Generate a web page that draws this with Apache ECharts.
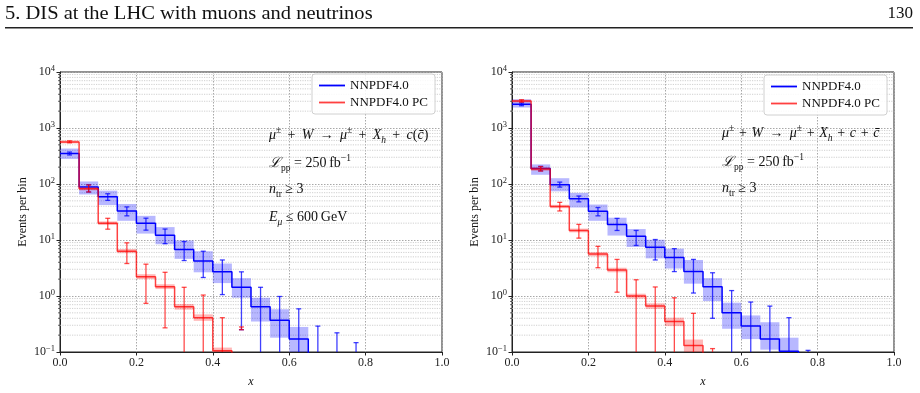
<!DOCTYPE html>
<html><head><meta charset="utf-8">
<script src="https://cdn.jsdelivr.net/npm/echarts@6/dist/echarts.min.js"></script>
<style>html,body{margin:0;padding:0;background:#fff}#c{width:920px;height:393px}</style>
</head><body><div id="c"></div>
<script>
// ---- data ----
const binEdges = [0, 0.05, 0.1, 0.15, 0.2, 0.25, 0.3, 0.35, 0.4, 0.45, 0.5, 0.55, 0.6, 0.65, 0.7, 0.75, 0.8];
const xTicks = [0, 0.2, 0.4, 0.6, 0.8, 1.0];
const seriesNames = ['NNPDF4.0', 'NNPDF4.0 PC'];

// Left panel: mu + W -> mu + X_h + c(cbar), E_mu <= 600 GeV
const leftNN      = [350, 88, 59, 33, 20, 12.2, 6.8, 4.2, 2.7, 1.43, 0.64, 0.37, 0.17, 0.05, 0.04, 0.03];
const leftNNBandLo= [280, 65, 42, 22, 13, 8.4, 4.6, 2.65, 1.7, 0.93, 0.35, 0.18, 0.08, null, null, null];
const leftNNBandHi= [430, 111, 76, 44, 27, 17, 9.8, 6.3, 3.8, 2.08, 0.93, 0.58, 0.28, null, null, null];
const leftNNErrLo = [330, 72, 51, 27, 15, 8.6, 4.3, 2.14, 1.06, 0.25, 0.01, 0.01, 0.01, 0.01, 0.01, 0.01];
const leftNNErrHi = [372, 97, 67, 39, 24.5, 15.7, 9.4, 6.3, 4.4, 2.7, 1.43, 0.98, 0.59, 0.29, 0.22, 0.147];
const leftPC      = [563, 82, 20, 6.3, 2.2, 1.47, 0.64, 0.41, 0.105, 0.05, 0.04, 0.03, 0.03, 0.03, 0.03, 0.03];
const leftPCBandLo= [530, 77, 18.5, 5.8, 2.0, 1.33, 0.57, 0.36, 0.09, null, null, null, null, null, null, null];
const leftPCBandHi= [600, 88, 21.5, 6.9, 2.45, 1.62, 0.72, 0.47, 0.12, null, null, null, null, null, null, null];
const leftPCErrLo = [545, 72, 15.6, 3.8, 0.74, 0.27, 0.01, 0.01, 0.01, 0.25, null, null, null, null, null, null];
const leftPCErrHi = [590, 96, 24.4, 8.9, 3.7, 2.65, 1.43, 1.04, 0.41, 0.28, null, null, null, null, null, null];

// Right panel: mu + W -> mu + X_h + c + cbar
const rightNN      = [2650, 189, 97, 54.5, 32.5, 19, 11.7, 7.4, 4.85, 2.75, 1.47, 0.5, 0.29, 0.17, 0.103, 0.05];
const rightNNBandLo= [2320, 146, 74, 38, 22, 12, 7.5, 4.7, 3.1, 1.66, 0.81, 0.26, 0.17, 0.11, 0.06, null];
const rightNNBandHi= [3250, 224, 127, 69.5, 43, 25, 15.7, 10.1, 7.0, 4.4, 2.08, 0.76, 0.45, 0.34, 0.18, null];
const rightNNErrLo = [2500, 172, 88, 48, 27, 14.8, 8.0, 4.4, 2.73, 1.13, 0.4, 0.01, 0.01, 0.01, 0.01, 0.01];
const rightNNErrHi = [2800, 206, 108, 61, 38, 24.3, 14.8, 10.2, 7.0, 4.5, 2.6, 1.25, 0.78, 0.66, 0.41, 0.107];
const rightPC      = [3030, 186, 39.5, 14.8, 5.6, 2.9, 1.0, 0.66, 0.35, 0.13, 0.05, 0.04, 0.03, 0.03, 0.03, 0.03];
const rightPCBandLo= [2850, 172, 37, 13.7, 5.1, 2.65, 0.9, 0.59, 0.29, 0.1, null, null, null, null, null, null];
const rightPCBandHi= [3200, 200, 42.5, 16, 6.1, 3.2, 1.1, 0.74, 0.41, 0.167, null, null, null, null, null, null];
const rightPCErrLo = [2900, 170, 33, 10.8, 3.2, 1.17, 0.01, 0.01, 0.01, 0.01, 0.01, null, null, null, null, null];
const rightPCErrHi = [3200, 205, 47, 19, 7.7, 4.5, 1.95, 1.45, 0.93, 0.49, 0.115, null, null, null, null, null];

const yDecades = [0.1, 1, 10, 100, 1000];
const minorMult = [2, 3, 4, 5, 6, 7, 8, 9];

// ---- styling ----
const SERIF = '"Liberation Serif","DejaVu Serif",serif';
const BLUE = '#0000ff';
const RED = 'rgba(255,0,0,0.75)';
const BLUE_BAND = 'rgba(0,0,255,0.28)';
const RED_BAND = 'rgba(255,0,0,0.28)';
const BLUE_ERR = 'rgba(0,0,255,0.75)';
const RED_ERR = 'rgba(255,0,0,0.7)';

function stepData(vals) {
  const d = vals.map((v, i) => [binEdges[i], v]);
  d.push([binEdges[vals.length], vals[vals.length - 1]]);
  return d;
}
function bandData(lo, hi) {
  const d = [];
  lo.forEach((l, i) => { if (l != null) d.push([binEdges[i], binEdges[i + 1], l, hi[i]]); });
  return d;
}
function errData(lo, hi) {
  const d = [];
  lo.forEach((l, i) => { if (l != null) d.push([(binEdges[i] + binEdges[i + 1]) / 2, l, hi[i]]); });
  return d;
}
function bandRender(color) {
  return function (params, api) {
    const cs = params.coordSys;
    const p0 = api.coord([api.value(0), api.value(3)]);
    const p1 = api.coord([api.value(1), api.value(2)]);
    const top = Math.max(p0[1], cs.y), bot = Math.min(p1[1], cs.y + cs.height);
    if (bot <= top) return null;
    return { type: 'rect', shape: { x: p0[0], y: top, width: p1[0] - p0[0], height: bot - top }, style: { fill: color } };
  };
}
function errRender(color) {
  return function (params, api) {
    const cs = params.coordSys;
    const x = api.value(0);
    const pl = api.coord([x, api.value(1)]), ph = api.coord([x, api.value(2)]);
    const yb = cs.y + cs.height, yt = cs.y;
    if (ph[1] > yb) return null;
    const y1 = Math.min(pl[1], yb), y2 = Math.max(ph[1], yt);
    const st = { stroke: color, lineWidth: 1.3 };
    const ch = [{ type: 'line', shape: { x1: pl[0], y1: y1, x2: pl[0], y2: y2 }, style: st }];
    const cw = 2.5;
    if (pl[1] <= yb) ch.push({ type: 'line', shape: { x1: pl[0] - cw, y1: pl[1], x2: pl[0] + cw, y2: pl[1] }, style: st });
    if (ph[1] >= yt) ch.push({ type: 'line', shape: { x1: ph[0] - cw, y1: ph[1], x2: ph[0] + cw, y2: ph[1] }, style: st });
    return { type: 'group', children: ch };
  };
}
const minorVals = [];
yDecades.forEach(d => minorMult.forEach(m => minorVals.push([0, d * m])));
function minorRender(params, api) {
  const cs = params.coordSys;
  const p = api.coord([0, api.value(1)]);
  return { type: 'group', children: [
    { type: 'line', shape: { x1: cs.x, y1: p[1], x2: cs.x + cs.width, y2: p[1] }, style: { stroke: '#c4c4c4', lineWidth: 0.8, lineDash: [1.2, 1.2] } },
    { type: 'line', shape: { x1: cs.x - 2, y1: p[1], x2: cs.x, y2: p[1] }, style: { stroke: '#222', lineWidth: 0.7 } }
  ] };
}

function panelSeries(gi, nn, nnLo, nnHi, nnEL, nnEH, pc, pcLo, pcHi, pcEL, pcEH) {
  const ax = { xAxisIndex: gi, yAxisIndex: gi };
  return [
    Object.assign({ type: 'custom', silent: true, z: 1, data: minorVals, encode: { x: 0, y: 1 }, renderItem: minorRender }, ax),
    Object.assign({ type: 'custom', silent: true, z: 2, data: bandData(nnLo, nnHi), encode: { x: [0, 1], y: [2, 3] }, renderItem: bandRender(BLUE_BAND) }, ax),
    Object.assign({ type: 'line', name: seriesNames[0], step: 'end', symbol: 'none', clip: true, z: 3, color: BLUE,
      lineStyle: { color: BLUE, width: 1.5 }, data: stepData(nn) }, ax),
    Object.assign({ type: 'custom', silent: true, z: 4, data: errData(nnEL, nnEH), encode: { x: 0, y: [1, 2] }, renderItem: errRender(BLUE_ERR) }, ax),
    Object.assign({ type: 'custom', silent: true, z: 5, data: bandData(pcLo, pcHi), encode: { x: [0, 1], y: [2, 3] }, renderItem: bandRender(RED_BAND) }, ax),
    Object.assign({ type: 'line', name: seriesNames[1], step: 'end', symbol: 'none', clip: true, z: 6, color: RED,
      lineStyle: { color: RED, width: 1.5 }, data: stepData(pc) }, ax),
    Object.assign({ type: 'custom', silent: true, z: 7, data: errData(pcEL, pcEH), encode: { x: 0, y: [1, 2] }, renderItem: errRender(RED_ERR) }, ax)
  ];
}

const grids = [
  { left: 60, top: 72, width: 382, height: 285, show: true, borderColor: '#222', borderWidth: 1, backgroundColor: 'transparent' },
  { left: 512, top: 72, width: 382, height: 285, show: true, borderColor: '#222', borderWidth: 1, backgroundColor: 'transparent' }
];
function mkX(gi) {
  return {
    gridIndex: gi, type: 'value', min: 0, max: 1, interval: 0.2,
    name: 'x', nameLocation: 'middle', nameGap: 24,
    nameTextStyle: { fontFamily: SERIF, fontStyle: 'italic', fontSize: 12, color: '#111' },
    axisLine: { show: true, lineStyle: { color: '#222', width: 1 } },
    axisTick: { show: true, inside: false, length: 3.5, lineStyle: { color: '#222' } },
    axisLabel: { fontFamily: SERIF, fontSize: 12, color: '#222', margin: 5, formatter: v => v.toFixed(1), showMinLabel: true, showMaxLabel: true },
    splitLine: { show: true, lineStyle: { color: '#a8a8a8', width: 1, type: [1.5, 1.5] } }
  };
}
function supDigits(v) {
  const e = Math.round(Math.log10(v));
  return e < 0 ? '\u2212' + Math.abs(e) : String(e);
}
function mkY(gi) {
  return {
    gridIndex: gi, type: 'log', logBase: 10, min: 0.1, max: 10000,
    name: 'Events per bin', nameLocation: 'middle', nameGap: 31, nameRotate: 90,
    nameTextStyle: { fontFamily: SERIF, fontSize: 12, color: '#111' },
    axisLine: { show: true, lineStyle: { color: '#222', width: 1 } },
    axisTick: { show: true, inside: false, length: 3.5, lineStyle: { color: '#222' } },
    axisLabel: {
      margin: 5, formatter: v => '{b|10}{e|' + supDigits(v) + '}',
      rich: {
        b: { fontFamily: SERIF, fontSize: 12, color: '#222', lineHeight: 16 },
        e: { fontFamily: SERIF, fontSize: 8.5, color: '#222', verticalAlign: 'top', lineHeight: 10 }
      }
    },
    splitLine: { show: true, lineStyle: { color: '#a8a8a8', width: 1, type: [1.5, 1.5] } },
    minorTick: { show: false }, minorSplitLine: { show: false }
  };
}
function mkLegend(left, top) {
  return {
    data: seriesNames, orient: 'vertical', left: left, top: top,
    icon: 'rect', itemWidth: 26, itemHeight: 1.8, itemGap: 4, padding: [5, 7, 5, 7],
    backgroundColor: 'rgba(255,255,255,0.85)', borderColor: '#d0d0d0', borderWidth: 1, borderRadius: 3,
    textStyle: { fontFamily: SERIF, fontSize: 13, color: '#111', lineHeight: 13 }, selectedMode: false
  };
}
const mathRich = {
  r: { fontFamily: SERIF, fontSize: 14, fill: '#111', lineHeight: 20 },
  i: { fontFamily: SERIF, fontSize: 14, fontStyle: 'italic', fill: '#111', lineHeight: 20 },
  sup: { fontFamily: SERIF, fontSize: 9.5, fill: '#111', verticalAlign: 'top', lineHeight: 11 },
  sub: { fontFamily: SERIF, fontSize: 9.5, fill: '#111', verticalAlign: 'bottom', lineHeight: 11 },
  subi: { fontFamily: SERIF, fontSize: 9.5, fontStyle: 'italic', fill: '#111', verticalAlign: 'bottom', lineHeight: 11 }
};
function mathText(x, y, txt) {
  return { type: 'text', x: x, y: y, silent: true, z: 50, style: { text: txt, rich: mathRich, fill: '#111', verticalAlign: 'middle' } };
}
const T = '\u2009';
const H = '\u200a';
const leftLines = [
  '{i|\u03bc}{sup|\u00b1}{r| ' + T + '+' + T + ' }{i|W}{r| ' + T + '\u2192' + T + ' }{i|\u03bc}{sup|\u00b1}{r| ' + T + '+' + T + ' }{i|X}{subi|h}{r| ' + T + '+' + T + ' }{i|c}{r|(}{i|c\u0304}{r|)}',
  '{i|\u2112}{sub|pp}{r| = 250' + T + 'fb}{sup|\u22121}',
  '{i|n}{sub|tr}{r| \u2265 3}',
  '{i|E}{subi|\u03bc}{r| \u2264 600' + T + 'GeV}'
];
const rightLines = [
  '{i|\u03bc}{sup|\u00b1}{r| ' + H + '+' + H + ' }{i|W}{r| ' + T + '\u2192' + T + ' }{i|\u03bc}{sup|\u00b1}{r| ' + H + '+' + H + ' }{i|X}{subi|h}{r| ' + H + '+' + H + ' }{i|c}{r| ' + H + '+' + H + ' }{i|c\u0304}',
  '{i|\u2112}{sub|pp}{r| = 250' + T + 'fb}{sup|\u22121}',
  '{i|n}{sub|tr}{r| \u2265 3}'
];
const leftY = [135, 163, 189, 217];
const rightY = [133, 162, 188];

const graphics = [
  { type: 'text', x: 5, y: 5, scaleX: 1.14, silent: true, style: { text: '5. DIS at the LHC with muons and neutrinos', font: '18px ' + SERIF, fill: '#111', verticalAlign: 'top' } },
  { type: 'text', x: 913, y: 5, silent: true, style: { text: '130', font: '17px ' + SERIF, fill: '#111', align: 'right', verticalAlign: 'top' } },
  { type: 'rect', silent: true, shape: { x: 5, y: 27, width: 908, height: 1.6 }, style: { fill: '#222' } }
];
leftLines.forEach((t, i) => graphics.push(mathText(269, leftY[i], t)));
rightLines.forEach((t, i) => graphics.push(mathText(722, rightY[i], t)));

const chart = echarts.init(document.getElementById('c'), null, { renderer: 'canvas' });
chart.setOption({
  animation: false,
  backgroundColor: '#fff',
  grid: grids,
  xAxis: [mkX(0), mkX(1)],
  yAxis: [mkY(0), mkY(1)],
  legend: [mkLegend(312, 74), mkLegend(764, 75)],
  graphic: graphics,
  series: [].concat(
    panelSeries(0, leftNN, leftNNBandLo, leftNNBandHi, leftNNErrLo, leftNNErrHi, leftPC, leftPCBandLo, leftPCBandHi, leftPCErrLo, leftPCErrHi),
    panelSeries(1, rightNN, rightNNBandLo, rightNNBandHi, rightNNErrLo, rightNNErrHi, rightPC, rightPCBandLo, rightPCBandHi, rightPCErrLo, rightPCErrHi)
  )
});
</script></body></html>
